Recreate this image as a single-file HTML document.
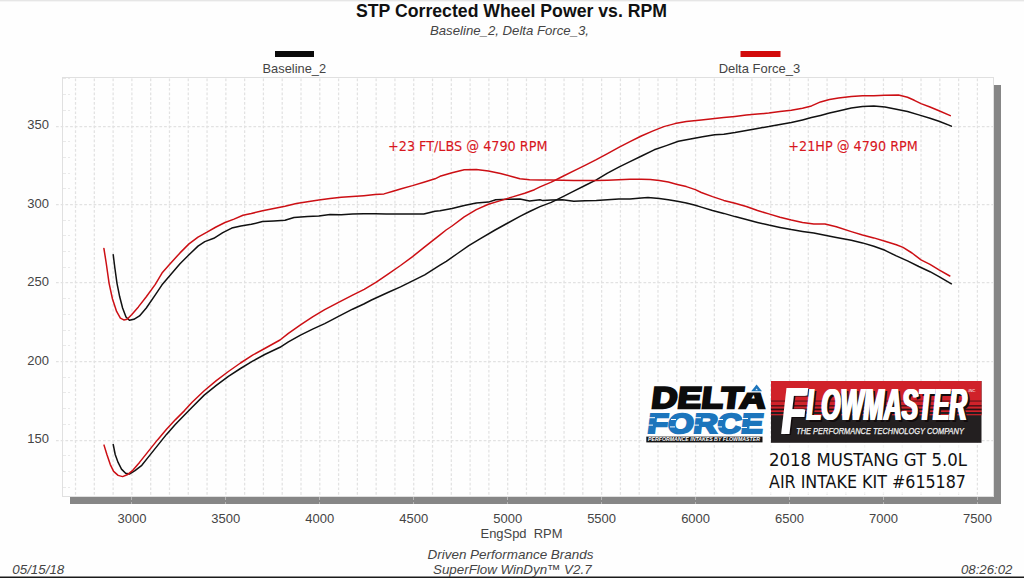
<!DOCTYPE html>
<html lang="en"><head><meta charset="utf-8"><title>STP Corrected Wheel Power vs. RPM</title>
<style>
html,body{margin:0;padding:0;background:#fff;}
body{width:1024px;height:578px;overflow:hidden;font-family:'Liberation Sans', Arial, Helvetica, sans-serif;}
svg{display:block;}
text{font-family:'Liberation Sans', Arial, Helvetica, sans-serif;}
.tick{font-size:13px;fill:#444;}
.it{font-size:13px;font-style:italic;fill:#444;}
.grid line{stroke:#e2e2e2;stroke-width:1.25;stroke-dasharray:2.7 2;}
.minor line{stroke:#e9e9e9;stroke-width:1;stroke-dasharray:3 2;shape-rendering:crispEdges;}
.curve{fill:none;stroke-width:1.5;stroke-linejoin:round;stroke-linecap:round;}
.note{font-size:13.6px;fill:#d8171e;stroke:#d8171e;stroke-width:0.1px;font-family:"DejaVu Sans Condensed","DejaVu Sans","Liberation Sans",sans-serif;}
.kit{font-size:17.8px;fill:#111;font-family:"DejaVu Sans Condensed","DejaVu Sans","Liberation Sans",sans-serif;}
</style></head><body>
<svg width="1024" height="578" viewBox="0 0 1024 578">
<rect x="0" y="0" width="1024" height="578" fill="#fefefe"/>
<rect x="0" y="0" width="1024" height="1" fill="#e6e6e6"/>
<rect x="0" y="1" width="1024" height="1" fill="#f5f5f5"/>
<rect x="0" y="576.5" width="1024" height="1.5" fill="#1a1a1a"/>
<text x="511.5" y="17" text-anchor="middle" font-size="18px" font-weight="bold" fill="#111" textLength="311" lengthAdjust="spacingAndGlyphs">STP Corrected Wheel Power vs. RPM</text>
<text class="it" x="509.5" y="35" text-anchor="middle" textLength="159" lengthAdjust="spacingAndGlyphs">Baseline_2, Delta Force_3,</text>
<rect x="275" y="51" width="39" height="6" fill="#0a0a0a"/>
<text class="tick" x="294.3" y="73.4" text-anchor="middle" textLength="63.5" lengthAdjust="spacingAndGlyphs">Baseline_2</text>
<rect x="740.5" y="51" width="40" height="6" fill="#d20a0a"/>
<text class="tick" x="759.4" y="73.4" text-anchor="middle" textLength="81.5" lengthAdjust="spacingAndGlyphs">Delta Force_3</text>
<rect x="994" y="85" width="7" height="419" fill="#868686"/>
<rect x="70" y="497" width="931" height="7" fill="#868686"/>
<rect x="62.5" y="77.5" width="931.0" height="419.0" fill="#fefefe" stroke="#e0e0e0" stroke-width="1"/>
<g class="grid">
<line x1="75.53" y1="78.5" x2="75.53" y2="496.5"/>
<line x1="94.32" y1="78.5" x2="94.32" y2="496.5"/>
<line x1="113.11" y1="78.5" x2="113.11" y2="496.5"/>
<line x1="131.90" y1="78.5" x2="131.90" y2="496.5"/>
<line x1="150.69" y1="78.5" x2="150.69" y2="496.5"/>
<line x1="169.48" y1="78.5" x2="169.48" y2="496.5"/>
<line x1="188.27" y1="78.5" x2="188.27" y2="496.5"/>
<line x1="207.06" y1="78.5" x2="207.06" y2="496.5"/>
<line x1="225.84" y1="78.5" x2="225.84" y2="496.5"/>
<line x1="244.63" y1="78.5" x2="244.63" y2="496.5"/>
<line x1="263.42" y1="78.5" x2="263.42" y2="496.5"/>
<line x1="282.21" y1="78.5" x2="282.21" y2="496.5"/>
<line x1="301.00" y1="78.5" x2="301.00" y2="496.5"/>
<line x1="319.79" y1="78.5" x2="319.79" y2="496.5"/>
<line x1="338.58" y1="78.5" x2="338.58" y2="496.5"/>
<line x1="357.37" y1="78.5" x2="357.37" y2="496.5"/>
<line x1="376.16" y1="78.5" x2="376.16" y2="496.5"/>
<line x1="394.94" y1="78.5" x2="394.94" y2="496.5"/>
<line x1="413.73" y1="78.5" x2="413.73" y2="496.5"/>
<line x1="432.52" y1="78.5" x2="432.52" y2="496.5"/>
<line x1="451.31" y1="78.5" x2="451.31" y2="496.5"/>
<line x1="470.10" y1="78.5" x2="470.10" y2="496.5"/>
<line x1="488.89" y1="78.5" x2="488.89" y2="496.5"/>
<line x1="507.68" y1="78.5" x2="507.68" y2="496.5"/>
<line x1="526.47" y1="78.5" x2="526.47" y2="496.5"/>
<line x1="545.26" y1="78.5" x2="545.26" y2="496.5"/>
<line x1="564.04" y1="78.5" x2="564.04" y2="496.5"/>
<line x1="582.83" y1="78.5" x2="582.83" y2="496.5"/>
<line x1="601.62" y1="78.5" x2="601.62" y2="496.5"/>
<line x1="620.41" y1="78.5" x2="620.41" y2="496.5"/>
<line x1="639.20" y1="78.5" x2="639.20" y2="496.5"/>
<line x1="657.99" y1="78.5" x2="657.99" y2="496.5"/>
<line x1="676.78" y1="78.5" x2="676.78" y2="496.5"/>
<line x1="695.57" y1="78.5" x2="695.57" y2="496.5"/>
<line x1="714.36" y1="78.5" x2="714.36" y2="496.5"/>
<line x1="733.14" y1="78.5" x2="733.14" y2="496.5"/>
<line x1="751.93" y1="78.5" x2="751.93" y2="496.5"/>
<line x1="770.72" y1="78.5" x2="770.72" y2="496.5"/>
<line x1="789.51" y1="78.5" x2="789.51" y2="496.5"/>
<line x1="808.30" y1="78.5" x2="808.30" y2="496.5"/>
<line x1="827.09" y1="78.5" x2="827.09" y2="496.5"/>
<line x1="845.88" y1="78.5" x2="845.88" y2="496.5"/>
<line x1="864.67" y1="78.5" x2="864.67" y2="496.5"/>
<line x1="883.46" y1="78.5" x2="883.46" y2="496.5"/>
<line x1="902.24" y1="78.5" x2="902.24" y2="496.5"/>
<line x1="921.03" y1="78.5" x2="921.03" y2="496.5"/>
<line x1="939.82" y1="78.5" x2="939.82" y2="496.5"/>
<line x1="958.61" y1="78.5" x2="958.61" y2="496.5"/>
<line x1="977.40" y1="78.5" x2="977.40" y2="496.5"/>
<line x1="56" y1="126.5" x2="993.5" y2="126.5"/>
<line x1="56" y1="204.5" x2="993.5" y2="204.5"/>
<line x1="56" y1="282.5" x2="993.5" y2="282.5"/>
<line x1="56" y1="361.5" x2="993.5" y2="361.5"/>
<line x1="56" y1="440.5" x2="993.5" y2="440.5"/>
</g>
<g class="minor">
<line x1="62.5" y1="487.5" x2="70" y2="487.5"/>
<line x1="62.5" y1="471.5" x2="70" y2="471.5"/>
<line x1="62.5" y1="455.5" x2="70" y2="455.5"/>
<line x1="62.5" y1="424.5" x2="70" y2="424.5"/>
<line x1="62.5" y1="408.5" x2="70" y2="408.5"/>
<line x1="62.5" y1="392.5" x2="70" y2="392.5"/>
<line x1="62.5" y1="377.5" x2="70" y2="377.5"/>
<line x1="62.5" y1="345.5" x2="70" y2="345.5"/>
<line x1="62.5" y1="330.5" x2="70" y2="330.5"/>
<line x1="62.5" y1="314.5" x2="70" y2="314.5"/>
<line x1="62.5" y1="298.5" x2="70" y2="298.5"/>
<line x1="62.5" y1="267.5" x2="70" y2="267.5"/>
<line x1="62.5" y1="251.5" x2="70" y2="251.5"/>
<line x1="62.5" y1="235.5" x2="70" y2="235.5"/>
<line x1="62.5" y1="220.5" x2="70" y2="220.5"/>
<line x1="62.5" y1="188.5" x2="70" y2="188.5"/>
<line x1="62.5" y1="173.5" x2="70" y2="173.5"/>
<line x1="62.5" y1="157.5" x2="70" y2="157.5"/>
<line x1="62.5" y1="141.5" x2="70" y2="141.5"/>
<line x1="62.5" y1="110.5" x2="70" y2="110.5"/>
<line x1="62.5" y1="94.5" x2="70" y2="94.5"/>
<line x1="62.5" y1="78.5" x2="70" y2="78.5"/>
</g>
<line x1="131.5" y1="497" x2="131.5" y2="504" stroke="#b5b5b5" stroke-width="1" stroke-dasharray="3 2"/>
<line x1="225.5" y1="497" x2="225.5" y2="504" stroke="#b5b5b5" stroke-width="1" stroke-dasharray="3 2"/>
<line x1="319.5" y1="497" x2="319.5" y2="504" stroke="#b5b5b5" stroke-width="1" stroke-dasharray="3 2"/>
<line x1="413.5" y1="497" x2="413.5" y2="504" stroke="#b5b5b5" stroke-width="1" stroke-dasharray="3 2"/>
<line x1="507.5" y1="497" x2="507.5" y2="504" stroke="#b5b5b5" stroke-width="1" stroke-dasharray="3 2"/>
<line x1="601.5" y1="497" x2="601.5" y2="504" stroke="#b5b5b5" stroke-width="1" stroke-dasharray="3 2"/>
<line x1="695.5" y1="497" x2="695.5" y2="504" stroke="#b5b5b5" stroke-width="1" stroke-dasharray="3 2"/>
<line x1="789.5" y1="497" x2="789.5" y2="504" stroke="#b5b5b5" stroke-width="1" stroke-dasharray="3 2"/>
<line x1="883.5" y1="497" x2="883.5" y2="504" stroke="#b5b5b5" stroke-width="1" stroke-dasharray="3 2"/>
<line x1="977.5" y1="497" x2="977.5" y2="504" stroke="#b5b5b5" stroke-width="1" stroke-dasharray="3 2"/>
<text class="tick" x="49" y="129.4" text-anchor="end">350</text>
<text class="tick" x="49" y="207.9" text-anchor="end">300</text>
<text class="tick" x="49" y="286.4" text-anchor="end">250</text>
<text class="tick" x="49" y="364.9" text-anchor="end">200</text>
<text class="tick" x="49" y="443.4" text-anchor="end">150</text>
<text class="tick" x="131.9" y="523.3" text-anchor="middle">3000</text>
<text class="tick" x="225.8" y="523.3" text-anchor="middle">3500</text>
<text class="tick" x="319.8" y="523.3" text-anchor="middle">4000</text>
<text class="tick" x="413.7" y="523.3" text-anchor="middle">4500</text>
<text class="tick" x="507.7" y="523.3" text-anchor="middle">5000</text>
<text class="tick" x="601.6" y="523.3" text-anchor="middle">5500</text>
<text class="tick" x="695.6" y="523.3" text-anchor="middle">6000</text>
<text class="tick" x="789.5" y="523.3" text-anchor="middle">6500</text>
<text class="tick" x="883.5" y="523.3" text-anchor="middle">7000</text>
<text class="tick" x="977.4" y="523.3" text-anchor="middle">7500</text>
<text class="tick" x="521.5" y="538" text-anchor="middle" textLength="82" lengthAdjust="spacingAndGlyphs" xml:space="preserve">EngSpd  RPM</text>
<path class="curve" stroke="#111" d="M113.2 254.7 L114.8 267.5 L117.0 283.3 L119.7 296.8 L122.6 308.0 L126.0 317.0 L129.4 320.2 L133.9 319.3 L139.5 315.9 L146.3 308.0 L155.3 294.8 L162.0 284.8 L171.0 274.3 L180.0 263.7 L189.0 254.7 L198.0 246.1 L204.8 241.6 L213.8 238.3 L222.8 232.6 L231.8 228.1 L240.8 225.9 L251.3 224.3 L262.5 221.6 L273.8 220.9 L285.0 220.2 L294.0 217.5 L307.5 216.4 L318.8 215.9 L330.0 214.6 L341.3 214.8 L352.5 214.1 L363.8 213.7 L375.0 213.7 L386.3 214.1 L401.3 214.1 L412.5 214.1 L423.8 214.1 L435.0 211.2 L440.0 210.8 L452.1 208.4 L464.2 205.4 L476.3 203.0 L488.4 202.1 L495.7 199.7 L507.8 199.3 L519.9 199.0 L529.6 200.9 L540.0 199.7 L543.0 200.6 L551.3 200.1 L562.5 199.7 L573.8 201.3 L585.0 200.8 L596.3 200.6 L607.5 199.7 L618.8 199.0 L630.0 199.0 L641.3 197.9 L648.0 197.4 L659.3 198.6 L668.3 199.7 L677.3 201.3 L686.3 203.1 L695.3 205.3 L701.3 207.1 L712.5 210.5 L723.8 213.4 L735.0 216.6 L746.3 219.5 L757.5 222.4 L768.8 225.1 L780.0 227.4 L791.3 229.6 L802.5 231.4 L813.8 233.0 L825.0 235.3 L836.3 237.5 L851.3 240.2 L862.5 242.9 L873.8 246.3 L885.0 250.3 L896.3 255.9 L907.5 260.9 L918.8 266.5 L930.0 271.7 L939.0 276.6 L951.4 283.8"/>
<path class="curve" stroke="#111" d="M113.2 444.4 L115.2 454.5 L118.1 462.4 L121.5 469.1 L125.6 473.2 L129.4 474.1 L135.0 470.7 L141.8 465.3 L148.5 456.9 L157.5 445.6 L166.5 434.4 L175.5 424.3 L184.5 415.0 L192.1 407.2 L204.2 395.1 L216.3 385.4 L228.4 376.3 L240.5 368.5 L252.6 361.2 L264.7 354.5 L280.0 347.3 L288.4 341.8 L300.5 335.1 L312.6 329.1 L324.7 323.6 L340.0 315.7 L352.5 309.2 L363.8 304.0 L371.5 300.0 L388.4 292.3 L400.5 286.9 L412.6 280.8 L424.7 274.8 L440.0 265.1 L446.3 261.4 L457.5 253.5 L468.8 245.6 L480.0 238.9 L495.1 230.0 L507.8 223.0 L519.9 216.3 L529.6 211.5 L540.0 206.6 L551.3 202.4 L562.5 196.8 L573.8 191.1 L585.0 185.5 L596.3 179.9 L607.5 173.1 L618.8 167.1 L630.0 161.6 L642.1 155.8 L654.2 149.8 L666.3 145.6 L678.4 141.3 L690.5 138.9 L702.6 136.7 L714.7 134.7 L723.8 134.3 L735.0 132.6 L746.3 130.5 L757.5 128.4 L768.8 126.6 L780.0 124.4 L791.3 122.6 L802.5 119.9 L811.5 117.6 L820.5 115.4 L829.5 113.1 L838.5 110.9 L851.3 108.1 L862.5 106.6 L873.8 106.1 L885.0 107.0 L896.3 109.3 L907.5 111.5 L918.8 114.9 L930.0 118.3 L939.0 121.2 L951.4 126.1"/>
<path class="curve" stroke="#cc0f14" d="M103.9 248.4 L106.2 263.0 L109.1 283.3 L112.5 299.0 L116.6 311.4 L120.4 318.1 L123.8 319.9 L127.1 319.3 L131.6 314.8 L138.4 306.9 L146.3 296.8 L155.3 284.4 L162.0 273.1 L168.8 265.3 L180.0 252.9 L189.0 243.9 L198.0 237.1 L207.0 232.2 L216.0 227.0 L225.0 222.5 L234.0 219.1 L243.0 215.3 L251.3 213.5 L262.5 210.8 L273.8 208.5 L285.0 206.3 L296.3 203.6 L307.5 201.8 L318.8 200.0 L330.0 198.4 L341.3 197.3 L352.5 196.6 L363.8 195.7 L375.0 194.6 L384.0 193.9 L393.0 191.2 L401.3 188.7 L412.5 185.6 L423.8 182.2 L435.0 178.8 L440.0 176.3 L452.1 172.7 L464.2 169.7 L476.3 169.4 L488.4 170.9 L500.5 173.6 L512.6 176.7 L519.9 178.8 L529.6 179.7 L540.0 180.0 L551.3 180.0 L562.5 180.2 L573.8 180.4 L585.0 180.4 L596.3 180.4 L607.5 180.2 L618.8 179.8 L630.0 179.2 L641.3 179.2 L650.3 179.4 L659.3 180.6 L668.3 182.1 L677.3 184.4 L686.3 186.6 L695.3 189.6 L701.3 192.5 L712.5 196.6 L723.8 200.4 L735.0 203.3 L746.3 206.5 L757.5 210.5 L768.8 213.9 L780.0 217.3 L791.3 220.0 L802.5 222.4 L813.8 224.0 L825.0 224.0 L836.3 226.7 L851.3 231.6 L862.5 235.0 L873.8 237.9 L885.0 241.3 L896.3 244.7 L903.0 247.4 L912.0 253.0 L921.0 259.8 L930.0 264.3 L939.0 269.9 L949.8 276.0"/>
<path class="curve" stroke="#cc0f14" d="M104.0 445.1 L106.9 454.5 L110.3 464.6 L113.6 471.4 L118.1 475.4 L122.6 476.6 L127.1 474.8 L132.8 470.3 L139.5 462.4 L148.5 451.1 L157.5 439.9 L166.5 429.3 L175.5 419.6 L184.5 410.6 L192.1 402.3 L204.2 390.8 L216.3 380.6 L228.4 371.5 L240.5 363.0 L252.6 355.1 L264.7 348.5 L280.0 340.0 L288.4 333.3 L300.5 324.8 L312.6 316.9 L324.7 309.7 L340.0 301.6 L352.1 295.3 L364.2 289.3 L376.3 282.1 L388.4 273.9 L400.5 265.5 L412.6 256.6 L424.7 246.9 L440.0 234.8 L446.1 230.0 L452.1 226.0 L464.2 216.9 L476.3 209.6 L488.4 204.2 L500.5 200.6 L512.6 196.9 L524.7 193.3 L534.4 189.7 L540.0 186.9 L551.3 182.1 L562.5 176.5 L573.8 170.9 L585.0 165.3 L596.3 159.6 L607.5 153.6 L618.8 147.3 L630.0 141.6 L641.3 136.0 L652.5 131.1 L663.8 126.6 L675.0 123.6 L686.3 121.4 L701.3 120.0 L712.5 118.8 L723.8 117.6 L735.0 116.4 L746.3 115.1 L757.5 114.1 L768.8 113.0 L780.0 111.6 L791.3 110.2 L802.5 108.2 L811.5 105.9 L820.5 101.9 L829.5 99.6 L838.5 98.1 L851.3 96.4 L862.5 95.8 L873.8 95.8 L885.0 95.3 L898.5 95.1 L907.5 97.3 L914.3 100.3 L921.0 103.6 L930.0 107.0 L939.0 110.8 L950.3 115.6"/>
<text class="note" x="388" y="151.4" textLength="159.5" lengthAdjust="spacingAndGlyphs">+23 FT/LBS @ 4790 RPM</text>
<text class="note" x="788.3" y="151.4" textLength="129.5" lengthAdjust="spacingAndGlyphs">+21HP @ 4790 RPM</text>
<rect x="644" y="382" width="126" height="62" fill="#fefefe"/>
<rect x="765" y="445" width="208" height="49" fill="#fefefe" fill-opacity="0.65"/>
<g id="deltaforce">
<g transform="translate(650.6,407.6) skewX(-7)">
<text x="0" y="0" font-size="29.8px" font-weight="bold" fill="#0c0c0c" stroke="#0c0c0c" stroke-width="2.3" stroke-linejoin="miter" textLength="114.2" lengthAdjust="spacingAndGlyphs">DELTA</text>
</g>
<rect x="747" y="383" width="18.5" height="9.5" fill="#fefefe"/>
<polygon points="756.6,384.6 751.2,391.3 762,391.3" fill="#1c75bc"/>
<polygon points="756.6,388.4 755.3,390.2 757.9,390.2" fill="#e8f1f8"/>
<g transform="translate(646.8,432.8) skewX(-7)">
<text x="0" y="0" font-size="27.4px" font-weight="bold" fill="#1c75bc" stroke="#1c75bc" stroke-width="2.2" stroke-linejoin="miter" textLength="115.6" lengthAdjust="spacingAndGlyphs">FORCE</text>
</g>
<g fill="#fefefe">
<rect x="648" y="417.2" width="7" height="1"/><rect x="648" y="424.6" width="5" height="1"/>
<rect x="671" y="419" width="5" height="1"/><rect x="670" y="426.4" width="5" height="1"/>
<rect x="695" y="417.2" width="6" height="1"/><rect x="694" y="424.6" width="5" height="1"/>
<rect x="718" y="419" width="5" height="1"/><rect x="717" y="426.4" width="5" height="1"/>
<rect x="742" y="418" width="6" height="1"/><rect x="741" y="427" width="6" height="1"/>
</g>
<rect x="646.3" y="436.6" width="116.2" height="5.8" fill="#151515"/>
<text transform="translate(648,441.3) scale(0.5)" font-size="10px" font-weight="bold" font-style="italic" fill="#fff" textLength="224" lengthAdjust="spacingAndGlyphs">PERFORMANCE INTAKES BY FLOWMASTER</text>
</g>
<g id="flowmaster">
<rect x="771" y="381" width="210.5" height="61.8" fill="#231f20"/>
<rect x="771" y="381" width="210.5" height="34.3" fill="#d0222a"/>
<rect x="771" y="400.6" width="210.5" height="0.9" fill="#4a1216"/>
<rect x="771" y="405.2" width="210.5" height="1.3" fill="#3a1114"/>
<rect x="771" y="408.6" width="210.5" height="1.7" fill="#2b1013"/>
<rect x="771" y="412" width="210.5" height="2.1" fill="#231f20"/>
<g font-weight="bold" font-style="italic">
<g fill="#120c0d">
<text transform="translate(784.4,435.4) scale(0.60,1)" font-size="66.5px">F</text>
<text transform="translate(809,421.6) scale(0.55,1)" font-size="44.3px" textLength="292" lengthAdjust="spacingAndGlyphs">LOWMASTER</text>
</g>
<g fill="#fff">
<text transform="translate(780.6,434) scale(0.60,1)" font-size="66.5px">F</text>
<text transform="translate(781.8,434) scale(0.60,1)" font-size="66.5px">F</text>
<text transform="translate(783.0,434) scale(0.60,1)" font-size="66.5px">F</text>
<text transform="translate(805.4,420.2) scale(0.55,1)" font-size="44.3px" textLength="292" lengthAdjust="spacingAndGlyphs">LOWMASTER</text>
<text transform="translate(806.4,420.2) scale(0.55,1)" font-size="44.3px" textLength="292" lengthAdjust="spacingAndGlyphs">LOWMASTER</text>
<text transform="translate(807.4,420.2) scale(0.55,1)" font-size="44.3px" textLength="292" lengthAdjust="spacingAndGlyphs">LOWMASTER</text>
</g>
</g>
<text transform="translate(796.2,434.3)" font-size="8.3px" font-style="italic" fill="#f2f2f2" stroke="#f2f2f2" stroke-width="0.25" textLength="167.7" lengthAdjust="spacingAndGlyphs">THE PERFORMANCE TECHNOLOGY COMPANY</text>
<text transform="translate(968.4,391.6) scale(0.5)" font-size="8px" font-style="italic" font-weight="bold" fill="#f2d9da" textLength="15" lengthAdjust="spacingAndGlyphs">INC.</text>
</g>

<text class="kit" x="769" y="465.7" textLength="198" lengthAdjust="spacingAndGlyphs">2018 MUSTANG GT 5.0L</text>
<text class="kit" x="769" y="488.4" textLength="197" lengthAdjust="spacingAndGlyphs">AIR INTAKE KIT #615187</text>
<text class="it" x="12.3" y="574.2" textLength="52" lengthAdjust="spacingAndGlyphs">05/15/18</text>
<text class="it" x="510.5" y="559" text-anchor="middle" textLength="166" lengthAdjust="spacingAndGlyphs">Driven Performance Brands</text>
<text class="it" x="512.3" y="573.6" text-anchor="middle" textLength="158.5" lengthAdjust="spacingAndGlyphs">SuperFlow WinDyn™ V2.7</text>
<text class="it" x="961" y="574.2" textLength="51.4" lengthAdjust="spacingAndGlyphs">08:26:02</text>
</svg></body></html>
